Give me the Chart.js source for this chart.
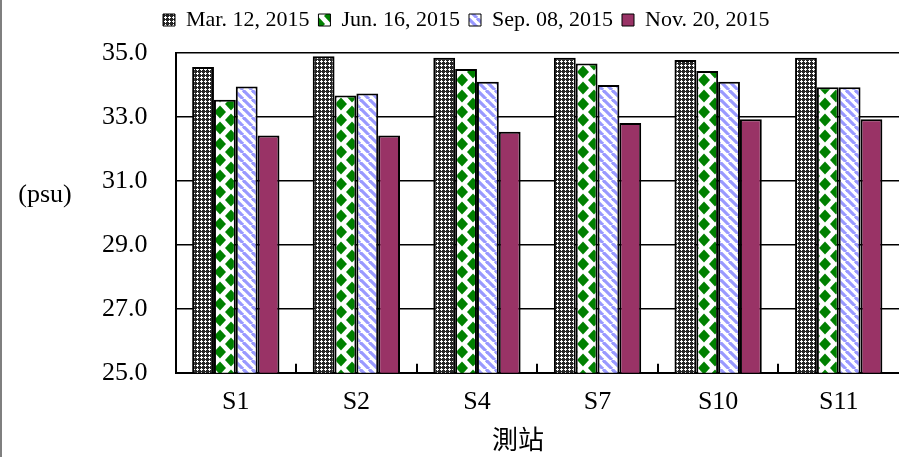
<!DOCTYPE html>
<html>
<head>
<meta charset="utf-8">
<script src="https://cdn.jsdelivr.net/npm/chart.js@4/dist/chart.umd.min.js"></script>
<style>
  html, body { margin: 0; padding: 0; background: #fff; }
  #wrap { position: relative; width: 899px; height: 457px; }
</style>
</head>
<body>
<div id="wrap"><canvas id="chartSalinidad"></canvas></div>
<script>
// datos
const stations = ['S1', 'S2', 'S4', 'S7', 'S10', 'S11'];
const seriesNames = ['Mar. 12, 2015', 'Jun. 16, 2015', 'Sep. 08, 2015', 'Nov. 20, 2015'];
const mar = [34.56, 34.90, 34.85, 34.85, 34.78, 34.85];
const jun = [33.54, 33.67, 34.50, 34.67, 34.44, 33.93];
const sep = [33.95, 33.73, 34.10, 34.00, 34.10, 33.93];
const nov = [32.42, 32.42, 32.54, 32.81, 32.93, 32.93];
const yTicks = [25, 27, 29, 31, 33, 35];
const yTitle = '(psu)';
const xTitle = '測站';

const serif = '"Liberation Serif", "Noto Sans CJK TC", serif';

function tile(w, h, draw) {
    const c = document.createElement('canvas');
    c.width = w;
    c.height = h;
    const g = c.getContext('2d');
    draw(g);
    return g.createPattern(c, 'repeat');
}

// cuadriculado oscuro con cruces blancas
const patMar = tile(4, 4, g => {
    g.fillStyle = '#262626';
    g.fillRect(0, 0, 4, 4);
    g.fillStyle = '#ffffff';
    g.fillRect(1, 0, 1, 3);
    g.fillRect(0, 1, 3, 1);
});

// rombos verdes
const patJun = tile(22, 16, g => {
    g.fillStyle = '#ffffff';
    g.fillRect(0, 0, 22, 16);
    g.fillStyle = '#008000';
    const rombo = (cx, cy) => {
        g.beginPath();
        g.moveTo(cx, cy - 6.5);
        g.lineTo(cx + 6, cy);
        g.lineTo(cx, cy + 6.5);
        g.lineTo(cx - 6, cy);
        g.closePath();
        g.fill();
    };
    rombo(11, 8);
    rombo(0, 0); rombo(22, 0); rombo(0, 16); rombo(22, 16);
});

// rayas diagonales azules
const patSep = tile(9, 9, g => {
    g.fillStyle = '#ffffff';
    g.fillRect(0, 0, 9, 9);
    g.strokeStyle = '#9999ff';
    g.lineWidth = 3.2;
    [-9, 0, 9].forEach(o => {
        g.beginPath();
        g.moveTo(o, 0);
        g.lineTo(o + 9, 9);
        g.stroke();
    });
});

const fills = [patMar, patJun, patSep, '#993366'];
const valores = [mar, jun, sep, nov];

const legendLeft = 163;

const decor = {
    id: 'decor',
    beforeInit(chart) {
        // espacio extra bajo la leyenda
        const fit = chart.legend.fit;
        chart.legend.fit = function () {
            fit.call(this);
            this.height += 12;
        };
    },
    afterLayout(chart) {
        const lg = chart.legend;
        const w = lg.right - lg.left;
        lg.left = legendLeft - lg.options.labels.padding;
        lg.right = lg.left + w;
    },
    afterDraw(chart) {
        const { ctx, chartArea, scales: { x } } = chart;
        ctx.save();
        ctx.strokeStyle = '#000';
        ctx.lineWidth = 2;
        for (let i = 0; i < stations.length - 1; i++) {
            const px = Math.round((x.getPixelForTick(i) + x.getPixelForTick(i + 1)) / 2);
            ctx.beginPath();
            ctx.moveTo(px, chartArea.bottom);
            ctx.lineTo(px, chartArea.bottom - 9);
            ctx.stroke();
        }
        ctx.fillStyle = '#000';
        ctx.textAlign = 'center';
        ctx.textBaseline = 'middle';
        ctx.font = '26px ' + serif;
        ctx.fillText(yTitle, 45, 195);
        ctx.fillText(xTitle, 518, 442);
        ctx.fillStyle = '#7f7f7f';
        ctx.fillRect(0, 0, 2, chart.height);
        ctx.restore();
    }
};

Chart.defaults.font.family = serif;
Chart.defaults.color = '#000';

new Chart(document.getElementById('chartSalinidad'), {
    type: 'bar',
    data: {
        labels: stations,
        datasets: seriesNames.map((name, i) => ({
            label: name,
            data: valores[i],
            backgroundColor: fills[i],
            borderColor: '#000',
            borderWidth: 2,
            categoryPercentage: 0.724,
            barPercentage: 1
        }))
    },
    options: {
        responsive: true,
        maintainAspectRatio: false,
        devicePixelRatio: 1,
        animation: false,
        layout: { padding: { left: 74, right: 0, top: 0, bottom: 25 } },
        plugins: {
            tooltip: { enabled: false },
            legend: {
                position: 'top',
                align: 'start',
                labels: {
                    font: { size: 22, family: serif },
                    boxWidth: 12,
                    boxHeight: 12,
                    padding: 9,
                    generateLabels(chart) {
                        const items = Chart.defaults.plugins.legend.labels.generateLabels(chart);
                        items.forEach(it => { it.lineWidth = 1; });
                        return items;
                    }
                }
            }
        },
        scales: {
            x: {
                grid: { display: false, drawTicks: false },
                border: { display: true, color: '#000', width: 2 },
                ticks: { font: { size: 26 }, padding: 14 }
            },
            y: {
                min: 25,
                max: 35,
                afterBuildTicks(scale) {
                    scale.ticks = yTicks.map(v => ({ value: v }));
                },
                grid: { color: '#000', lineWidth: 1.5, drawTicks: false },
                border: { display: true, color: '#000', width: 2 },
                ticks: {
                    font: { size: 26 },
                    padding: 28,
                    callback: v => Number(v).toFixed(1)
                }
            }
        }
    },
    plugins: [decor]
});
</script>
</body>
</html>
